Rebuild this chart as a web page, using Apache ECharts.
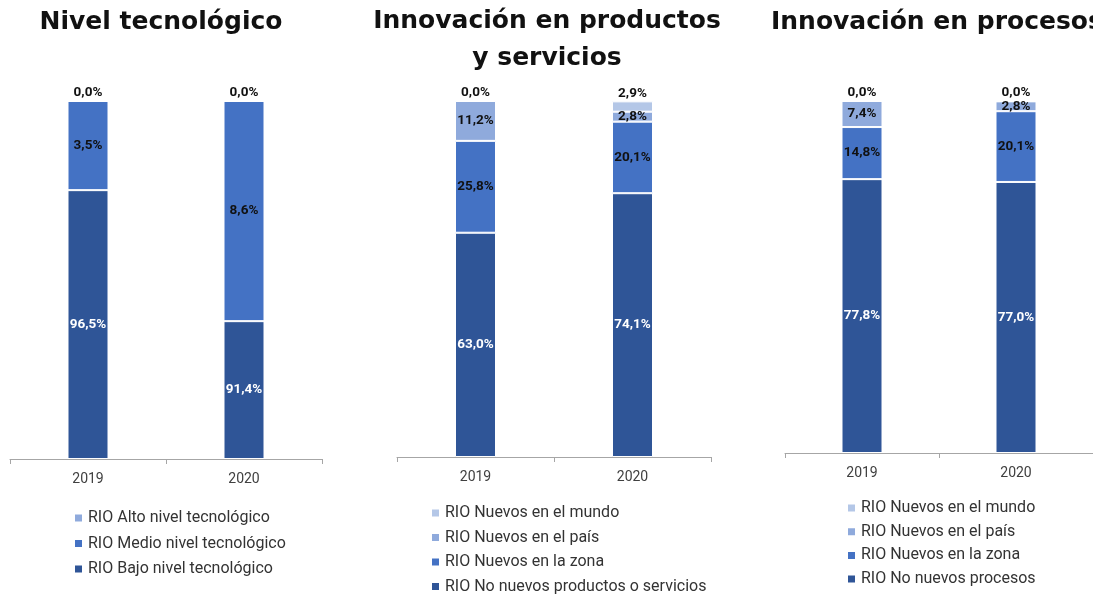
<!DOCTYPE html>
<html>
<head>
<meta charset="utf-8">
<script src="https://cdn.jsdelivr.net/npm/echarts@6/dist/echarts.min.js"></script>
<style>
html, body { margin: 0; padding: 0; background: #fff; }
#main { width: 1093px; height: 595px; }
</style>
</head>
<body>
<div id="main"></div>
<script>
// categorias
var years = ['2019', '2020'];

// Nivel tecnológico (alturas, etiquetas tal cual)
var tecBajo = [75.1, 38.5];
var tecMedio = [24.9, 61.5];
var tecAlto = [0, 0];
var tecBajoLbl = ['96,5%', '91,4%'];
var tecMedioLbl = ['3,5%', '8,6%'];
var tecAltoLbl = ['0,0%', '0,0%'];

// Innovación en productos y servicios
var prodNo = [63.0, 74.1];
var prodZona = [25.8, 20.1];
var prodPais = [11.2, 2.8];
var prodMundo = [0, 2.9];
var prodNoLbl = ['63,0%', '74,1%'];
var prodZonaLbl = ['25,8%', '20,1%'];
var prodPaisLbl = ['11,2%', '2,8%'];
var prodMundoLbl = ['0,0%', '2,9%'];

// Innovación en procesos
var procNo = [77.8, 77.0];
var procZona = [14.8, 20.1];
var procPais = [7.4, 2.8];
var procMundo = [0, 0];
var procNoLbl = ['77,8%', '77,0%'];
var procZonaLbl = ['14,8%', '20,1%'];
var procPaisLbl = ['7,4%', '2,8%'];
var procMundoLbl = ['0,0%', '0,0%'];

var C_DARK = '#2F5597', C_MED = '#4472C4', C_LIGHT = '#8FAADC', C_PALE = '#B4C7E7';

var grids = [
    { left: 10, top: 101, width: 312, height: 358 },
    { left: 397, top: 101, width: 314, height: 356 },
    { left: 785, top: 101, width: 314, height: 352 }
];

function bar(name, idx, data, labels, color, txtColor, pos) {
    return {
        name: name,
        type: 'bar',
        stack: 's' + idx,
        xAxisIndex: idx,
        yAxisIndex: idx,
        barWidth: 41,
        data: data,
        itemStyle: { color: color, borderColor: '#ffffff', borderWidth: 1 },
        label: {
            show: true,
            position: pos || 'inside',
            distance: 1,
            color: txtColor,
            fontFamily: 'Roboto',
            fontWeight: 'bold',
            fontSize: 13.5,
            formatter: function (p) { return labels[p.dataIndex]; }
        }
    };
}

var titleFont = { fontFamily: 'DejaVu Sans', fontWeight: 'bold', fontSize: 25, color: '#111' };
var legendFont = { fontFamily: 'Roboto', fontSize: 16, color: '#333' };

var option = {
    animation: false,
    title: [
        { text: 'Nivel tecnológico', left: 156, top: 5, textAlign: 'center', textStyle: titleFont },
        { text: 'Innovación en productos\ny servicios', left: 542, top: -2, textAlign: 'center',
          textStyle: Object.assign({ lineHeight: 37 }, titleFont) },
        { text: 'Innovación en procesos', left: 766, top: 5, textStyle: titleFont }
    ],
    legend: [
        { orient: 'vertical', left: 68, top: 505, height: 200, itemWidth: 9, itemHeight: 9, itemGap: 9.5, icon: 'rect',
          data: ['RIO Alto nivel tecnológico', 'RIO Medio nivel tecnológico', 'RIO Bajo nivel tecnológico'],
          textStyle: legendFont },
        { orient: 'vertical', left: 425, top: 500, height: 200, itemWidth: 9, itemHeight: 9, itemGap: 8.5, icon: 'rect',
          data: ['RIO Nuevos en el mundo', 'RIO Nuevos en el país', 'RIO Nuevos en la zona', 'RIO No nuevos productos o servicios'],
          textStyle: legendFont },
        { orient: 'vertical', left: 841, top: 495, height: 200, itemWidth: 9, itemHeight: 9, itemGap: 7.7, icon: 'rect',
          data: ['RIO Nuevos en el mundo ', 'RIO Nuevos en el país ', 'RIO Nuevos en la zona ', 'RIO No nuevos procesos'],
          textStyle: legendFont }
    ],
    grid: grids,
    xAxis: grids.map(function (g, i) {
        return {
            type: 'category', gridIndex: i, data: years,
            axisLine: { lineStyle: { color: '#A6A6A6' } },
            axisTick: { show: true, length: 5, lineStyle: { color: '#A6A6A6' } },
            axisLabel: { color: '#404040', fontFamily: 'Roboto', fontSize: 14, margin: 13 }
        };
    }),
    yAxis: grids.map(function (g, i) {
        return { type: 'value', gridIndex: i, min: 0, max: 100, show: false };
    }),
    series: [
        bar('RIO Bajo nivel tecnológico', 0, tecBajo, tecBajoLbl, C_DARK, '#fff'),
        bar('RIO Medio nivel tecnológico', 0, tecMedio, tecMedioLbl, C_MED, '#111'),
        bar('RIO Alto nivel tecnológico', 0, tecAlto, tecAltoLbl, C_LIGHT, '#111', 'top'),

        bar('RIO No nuevos productos o servicios', 1, prodNo, prodNoLbl, C_DARK, '#fff'),
        bar('RIO Nuevos en la zona', 1, prodZona, prodZonaLbl, C_MED, '#111'),
        bar('RIO Nuevos en el país', 1, prodPais, prodPaisLbl, C_LIGHT, '#111'),
        bar('RIO Nuevos en el mundo', 1, prodMundo, prodMundoLbl, C_PALE, '#111', 'top'),

        bar('RIO No nuevos procesos', 2, procNo, procNoLbl, C_DARK, '#fff'),
        bar('RIO Nuevos en la zona ', 2, procZona, procZonaLbl, C_MED, '#111'),
        bar('RIO Nuevos en el país ', 2, procPais, procPaisLbl, C_LIGHT, '#111'),
        bar('RIO Nuevos en el mundo ', 2, procMundo, procMundoLbl, C_PALE, '#111', 'top')
    ]
};

var chart = echarts.init(document.getElementById('main'));
chart.setOption(option);
</script>
</body>
</html>
